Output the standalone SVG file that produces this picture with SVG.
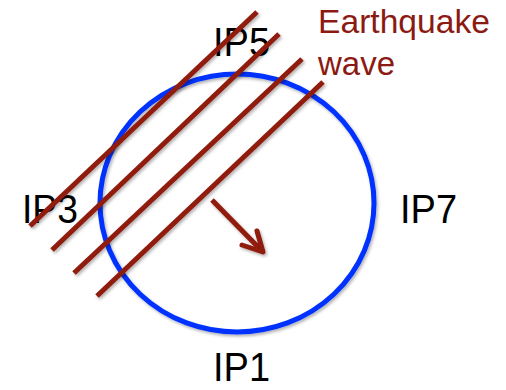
<svg xmlns="http://www.w3.org/2000/svg" width="506" height="390" viewBox="0 0 506 390">
<defs>
<style>
.lbl{font-family:"Liberation Sans",Arial,sans-serif;font-size:40px;fill:#000}
.eq{font-family:"Liberation Sans",Arial,sans-serif;font-size:33px;fill:#8b1a12}
.wave{stroke:#8f1a0c;stroke-width:5;fill:none}
</style>
<filter id="sh" x="-20%" y="-20%" width="140%" height="140%">
<feDropShadow dx="1.5" dy="2" stdDeviation="1.5" flood-color="#000" flood-opacity="0.3"/>
</filter>
</defs>
<rect width="506" height="390" fill="#fff"/>
<g id="ring">
<ellipse cx="237" cy="203" rx="137" ry="129" fill="none" stroke="#0533ff" stroke-width="5" filter="url(#sh)"/>
</g>
<g id="labels">
<text class="lbl" x="213" y="56" textLength="57" lengthAdjust="spacingAndGlyphs">IP5</text>
<text class="lbl" x="22" y="223" textLength="56" lengthAdjust="spacingAndGlyphs">IP3</text>
<text class="lbl" x="400" y="223" textLength="57" lengthAdjust="spacingAndGlyphs">IP7</text>
<text class="lbl" x="213" y="381" textLength="57" lengthAdjust="spacingAndGlyphs">IP1</text>
<text class="eq" x="318" y="33" textLength="172" lengthAdjust="spacingAndGlyphs">Earthquake</text>
<text class="eq" x="318" y="75">wave</text>
</g>
<g id="connectors" filter="url(#sh)">
<line class="wave" x1="257" y1="12" x2="30" y2="226"/>
<line class="wave" x1="279" y1="34" x2="52" y2="250"/>
<line class="wave" x1="302" y1="59" x2="74" y2="273"/>
<line class="wave" x1="323" y1="82" x2="97" y2="296"/>
<line class="wave" x1="212" y1="200" x2="261" y2="250"/>
<polyline class="wave" points="242,245 263,252 257,231" stroke-linecap="round" stroke-linejoin="round"/>
</g>
</svg>
